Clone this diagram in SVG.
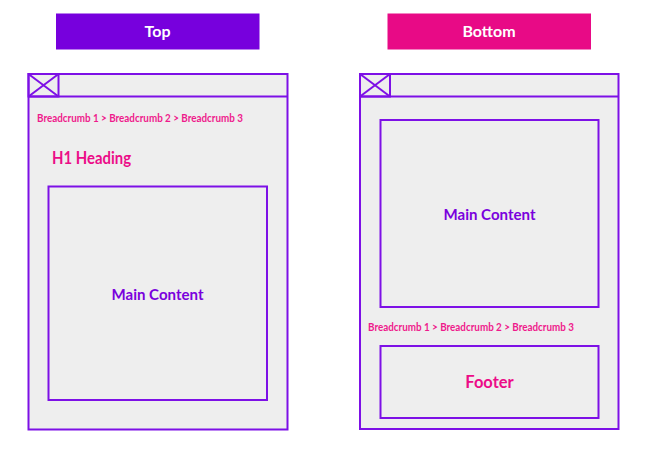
<svg xmlns="http://www.w3.org/2000/svg" width="665" height="450" viewBox="0 0 665 450">
<style>
.frame{fill:#eeeeee;stroke:#7d10e6;stroke-width:2}
.line{stroke:#7d10e6;stroke-width:2;fill:none}
.t{font-family:Lato,"Liberation Sans",sans-serif;font-weight:bold}
.crumb{font-size:10.5px;fill:#ee1a8c}
.purple{fill:#7a00dd}
.pink{fill:#ec0c88}
</style>
<rect width="665" height="450" fill="#ffffff"/>
<g id="top-label">
<rect x="56" y="13.5" width="203.5" height="36" fill="#7700dd"/>
<text class="t" x="157.5" y="37" font-size="16" fill="#ffffff" text-anchor="middle">Top</text>
</g>
<g id="bottom-label">
<rect x="387.5" y="13.5" width="203.5" height="36" fill="#e80a86"/>
<text class="t" x="489" y="37" font-size="16" fill="#ffffff" text-anchor="middle">Bottom</text>
</g>
<g id="top-frame">
<rect class="frame" x="28.5" y="74" width="259" height="355.5"/>
<line class="line" x1="28.5" y1="96.5" x2="287.5" y2="96.5"/>
<rect class="line" x="28.5" y="74" width="30" height="22.5"/>
<line class="line" x1="28.5" y1="74" x2="58.5" y2="96.5"/>
<line class="line" x1="58.5" y1="74" x2="28.5" y2="96.5"/>
<text class="t crumb" x="37" y="122" textLength="206" lengthAdjust="spacingAndGlyphs">Breadcrumb 1 &gt; Breadcrumb 2 &gt; Breadcrumb 3</text>
<text class="t pink" x="52" y="163.5" font-size="16.5" textLength="79" lengthAdjust="spacingAndGlyphs">H1 Heading</text>
</g>
<g id="top-main">
<rect class="frame" x="48.5" y="186.5" width="218.5" height="213.5"/>
<text class="t purple" x="157.5" y="299.5" font-size="16" text-anchor="middle" textLength="92" lengthAdjust="spacingAndGlyphs">Main Content</text>
</g>
<g id="bottom-frame">
<rect class="frame" x="360" y="74" width="258.5" height="355"/>
<line class="line" x1="360" y1="96.5" x2="618.5" y2="96.5"/>
<rect class="line" x="360" y="74" width="30" height="22.5"/>
<line class="line" x1="360" y1="74" x2="390" y2="96.5"/>
<line class="line" x1="390" y1="74" x2="360" y2="96.5"/>
<text class="t crumb" x="368" y="331" textLength="206" lengthAdjust="spacingAndGlyphs">Breadcrumb 1 &gt; Breadcrumb 2 &gt; Breadcrumb 3</text>
</g>
<g id="bottom-main">
<rect class="frame" x="380.5" y="120" width="218" height="187"/>
<text class="t purple" x="489.5" y="219.5" font-size="16" text-anchor="middle" textLength="92" lengthAdjust="spacingAndGlyphs">Main Content</text>
</g>
<g id="footer">
<rect class="frame" x="380.5" y="346" width="218" height="72"/>
<text class="t pink" x="489.5" y="388" font-size="16.5" text-anchor="middle">Footer</text>
</g>
<g id="connectors"></g>
</svg>
